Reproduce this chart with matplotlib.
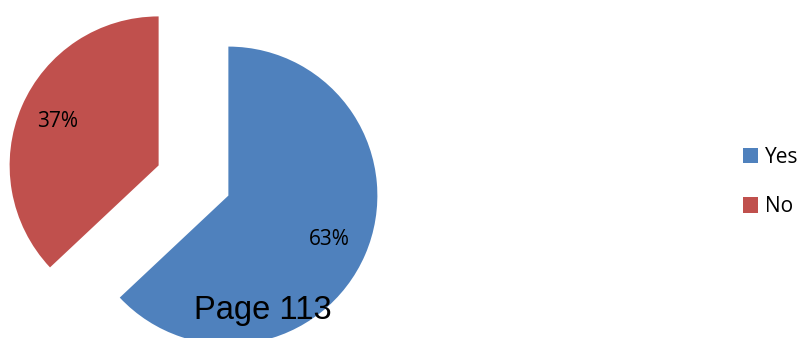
import matplotlib.pyplot as plt

# data
labels = ['Yes', 'No']
shares = [63, 37]
colors = ['#4F81BD', '#C0504D']

fig = plt.figure(figsize=(8.05, 3.38), dpi=100)
ax = fig.add_axes([0, 0, 1, 1])

# work in pixel units so the pie can sit where it does in the original
wedges, texts, autotexts = ax.pie(
    shares, colors=colors, startangle=90, counterclock=False,
    center=(193.5, 157.5), radius=149, explode=[38, 38],
    autopct='%1.0f%%', pctdistance=0.74,
    textprops={'fontsize': 15, 'family': 'Open Sans', 'color': 'black'},
    wedgeprops={'linewidth': 0})

ax.set_xlim(0, 805)
ax.set_ylim(0, 338)
ax.set_aspect('equal')
ax.axis('off')

ax.legend(wedges, labels, loc='center left', bbox_to_anchor=(724 / 805, 0.461),
          frameon=False, handlelength=0.75, handleheight=0.75,
          handletextpad=0.3, labelspacing=1.35,
          prop={'family': 'Open Sans', 'size': 15})

# page footer that overlaps the chart in the source
fig.text(263 / 805, 1 - 311 / 338, 'Page 113', ha='center', va='center',
         fontsize=23.5, family='Liberation Sans', color='black')

fig.savefig('out.png', dpi=100)
